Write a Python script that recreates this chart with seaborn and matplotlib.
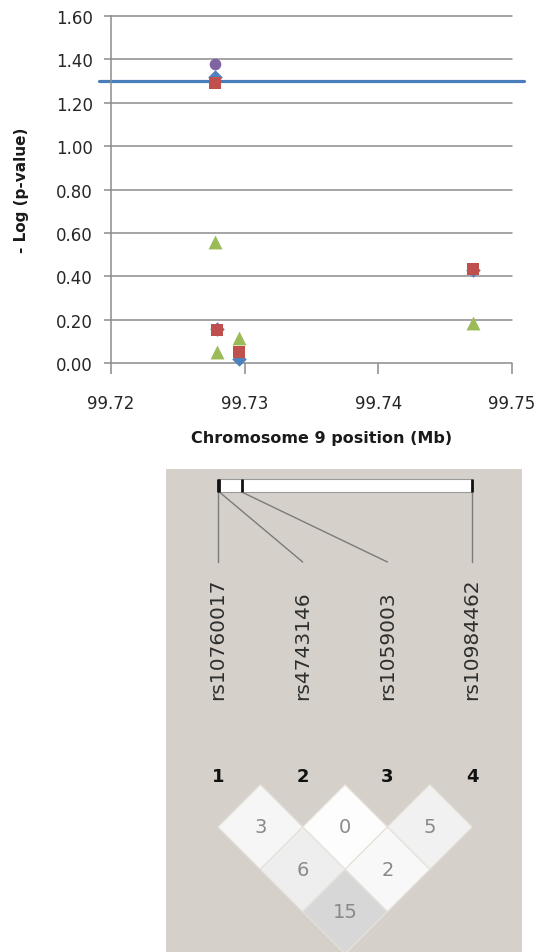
import numpy as np
import pandas as pd
import matplotlib
matplotlib.use("Agg")
import matplotlib.pyplot as plt
import seaborn as sns
from matplotlib.patches import Polygon, Rectangle

# ---------------- data ----------------
snp_ids = ["rs10760017", "rs4743146", "rs1059003", "rs10984462"]
snp_pos_mb = [99.7278, 99.7279, 99.7296, 99.7471]

# -log10(p) per SNP for each test (series)
series_blue = [1.32, 0.155, 0.018, 0.43]     # diamonds
series_red = [1.29, 0.15, 0.049, 0.435]      # squares
series_green = [0.557, 0.05, 0.115, 0.185]   # triangles
purple_pos_mb = [99.7278]
series_purple = [1.38]                       # circle

threshold = 1.301  # -log10(0.05)

x_ticks = [99.72, 99.73, 99.74, 99.75]
y_ticks = [0.0, 0.2, 0.4, 0.6, 0.8, 1.0, 1.2, 1.4, 1.6]

# pairwise LD (r^2 x 100) : (snp i, snp j, value)
ld_i = [1, 2, 3, 1, 2, 1]
ld_j = [2, 3, 4, 3, 4, 4]
ld_val = [3, 0, 5, 6, 2, 15]

# ---------------- style ----------------
sns.set_theme(style="white")
plt.rcParams["font.family"] = ["DejaVu Sans"]

W, H = 539, 953
fig = plt.figure(figsize=(W / 100, H / 100), dpi=100)
fig.patch.set_facecolor("white")

# ---------------- top scatter ----------------
ax = fig.add_axes([111 / W, 1 - 364 / H, 401 / W, 347 / H])
ax.set_facecolor("white")
grid_c = "#8C8C8C"
for yv in y_ticks:
    ax.axhline(yv, color=grid_c, lw=1.1, zorder=0, clip_on=False)

df_b = pd.DataFrame({"pos": snp_pos_mb, "val": series_blue})
df_r = pd.DataFrame({"pos": snp_pos_mb, "val": series_red})
df_g = pd.DataFrame({"pos": snp_pos_mb, "val": series_green})
df_p = pd.DataFrame({"pos": purple_pos_mb, "val": series_purple})

sns.scatterplot(data=df_b, x="pos", y="val", marker="D", s=55, color="#4F81BD",
                linewidth=0, ax=ax, zorder=3, clip_on=False)
sns.scatterplot(data=df_r, x="pos", y="val", marker="s", s=72, color="#C0504D",
                linewidth=0, ax=ax, zorder=4, clip_on=False)
sns.scatterplot(data=df_g, x="pos", y="val", marker="^", s=100, color="#9BBB59",
                linewidth=0, ax=ax, zorder=5, clip_on=False)
sns.scatterplot(data=df_p, x="pos", y="val", marker="o", s=70, color="#8064A2",
                linewidth=0, ax=ax, zorder=6, clip_on=False)

ax.axhline(threshold, xmin=-0.03, xmax=1.03, color="#4A7EBB", lw=2.3,
           zorder=2, clip_on=False)

ax.set_xlim(x_ticks[0], x_ticks[-1])
ax.set_ylim(y_ticks[0], y_ticks[-1])
ax.set_xticks(x_ticks)
ax.set_xticklabels([f"{v:.2f}" for v in x_ticks])
ax.set_yticks(y_ticks)
ax.set_yticklabels([f"{v:.2f}" for v in y_ticks])
for s in ["top", "right", "bottom"]:
    ax.spines[s].set_visible(False)
ax.spines["left"].set_color(grid_c)
ax.spines["left"].set_linewidth(1.1)
ax.tick_params(axis="y", length=5, width=1.1, color=grid_c, pad=8,
               labelsize=12, labelcolor="#262626", left=True, direction="out")
ax.tick_params(axis="x", length=8, width=1.1, color=grid_c, pad=14,
               labelsize=12, labelcolor="#262626", bottom=True, direction="out")
ax.set_xlabel("Chromosome 9 position (Mb)", fontsize=11.5, fontweight="bold",
              color="#1a1a1a")
ax.set_ylabel("- Log (p-value)", fontsize=11, fontweight="bold", color="#1a1a1a")
ax.xaxis.set_label_coords(0.524, -0.193)
ax.yaxis.set_label_coords(-0.204, 0.5)

# ---------------- LD panel ----------------
px = 84.7  # pixels per SNP-index unit
left_px, right_px, top_px = 166, 522, 470
snp1_px, num_row_px = 218, 777
axl = fig.add_axes([left_px / W, 0, (right_px - left_px) / W, (H - top_px) / H])
axl.set_facecolor("#D5D1CA")
axl.set_xlim(1 - (snp1_px - left_px) / px, 1 + (right_px - snp1_px) / px)
axl.set_ylim(-(H - num_row_px) / px, (num_row_px - top_px) / px)
axl.set_xticks([])
axl.set_yticks([])
for s in axl.spines.values():
    s.set_visible(False)

n = len(snp_ids)
idx = np.arange(1, n + 1)
pmin, pmax = min(snp_pos_mb), max(snp_pos_mb)
bar_x = [1 + (p - pmin) / (pmax - pmin) * (n - 1) for p in snp_pos_mb]
bar_top = (num_row_px - 480) / px
bar_bot = (num_row_px - 493) / px
line_end = (num_row_px - 563) / px
label_base = (num_row_px - 700) / px

axl.add_patch(Rectangle((bar_x[0], bar_bot), bar_x[-1] - bar_x[0], bar_top - bar_bot,
                        facecolor="white", edgecolor="#9A9A9A", lw=0.8, zorder=2))
for bx, ix in zip(bar_x, idx):
    axl.plot([bx, bx], [bar_bot, bar_top], color="#111111", lw=2.0, zorder=3,
             solid_capstyle="butt")
    axl.plot([bx, ix], [bar_bot, line_end], color="#7A7A7A", lw=1.0, zorder=1)

for ix, name in zip(idx, snp_ids):
    axl.text(ix, label_base, name, rotation=90, ha="center", va="bottom",
             fontsize=14.5, color="#2E2E2E")
    axl.text(ix, 0, str(ix), ha="center", va="center", fontsize=13,
             fontweight="bold", color="#111111")

row1 = -(828 - num_row_px) / px
for i, j, v in zip(ld_i, ld_j, ld_val):
    cx = (i + j) / 2
    cy = row1 - (j - i - 1) * 0.5
    g = (1 - v / 100) * 0.993
    diamond = Polygon([(cx, cy + 0.5), (cx + 0.5, cy), (cx, cy - 0.5), (cx - 0.5, cy)],
                      closed=True, facecolor=(g, g, g), edgecolor="#E6E2DA", lw=0.9,
                      zorder=2)
    axl.add_patch(diamond)
    axl.text(cx, cy, str(v), ha="center", va="center", fontsize=14, color="#8A8A8A",
             zorder=3)

fig.savefig("out.png", dpi=100, facecolor="white")
